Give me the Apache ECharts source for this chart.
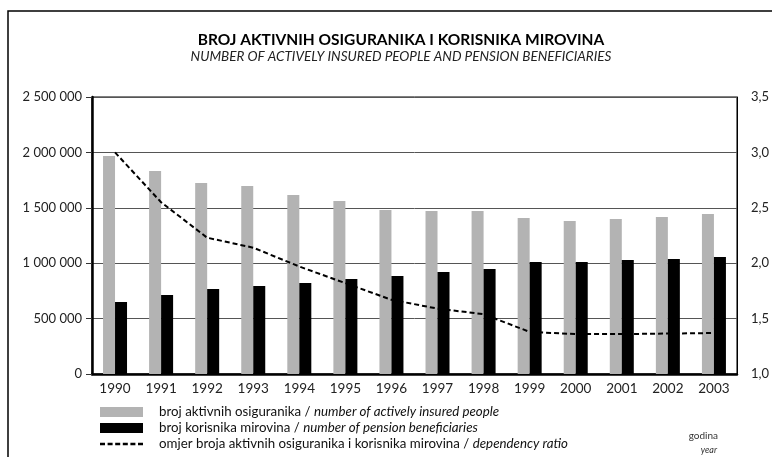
<!DOCTYPE html>
<html><head><meta charset="utf-8">
<script src="https://cdn.jsdelivr.net/npm/echarts@6/dist/echarts.min.js"></script>
<style>html,body{margin:0;padding:0;background:#fff}#c{width:772px;height:457px}</style>
</head><body><div id="c"></div>
<script>
var years = ['1990','1991','1992','1993','1994','1995','1996','1997','1998','1999','2000','2001','2002','2003'];
var insured = [1967000,1832000,1724000,1697000,1616000,1561000,1480000,1471000,1471000,1408000,1381000,1399000,1417000,1444000];
var beneficiaries = [650000,713000,767000,794000,821000,857000,884000,921000,948000,1011000,1011000,1029000,1038000,1056000];
var ratio = [3.0,2.55,2.23,2.14,1.97,1.82,1.67,1.59,1.54,1.38,1.36,1.36,1.365,1.37];
var leftTicks = {min:0, max:2500000, interval:500000};
var rightTicks = {min:1.0, max:3.5, interval:0.5};
var names = [
  ['broj aktivnih osiguranika / ','number of actively insured people'],
  ['broj korisnika mirovina / ','number of pension beneficiaries'],
  ['omjer broja aktivnih osiguranika i korisnika mirovina / ','dependency ratio']
];
var titleText = 'BROJ AKTIVNIH OSIGURANIKA I KORISNIKA MIROVINA';
var subtitleText = 'NUMBER OF ACTIVELY INSURED PEOPLE AND PENSION BENEFICIARIES';
var FONT = 'Lato, "Open Sans", sans-serif';
var dashIcon = 'path://M0,0h50v24h-50zM76,0h50v24h-50zM152,0h50v24h-50zM228,0h50v24h-50zM304,0h50v24h-50zM380,0h50v24h-50z';
var chart = echarts.init(document.getElementById('c'), null, {renderer:'canvas'});
function nm(i){return names[i][0]+names[i][1];}
chart.setOption({
  animation:false,
  backgroundColor:'#fff',
  graphic:[
    {type:'rect',shape:{x:8,y:11,width:800,height:500},style:{fill:null,stroke:'#000',lineWidth:1.5},silent:true},
    {type:'text',x:401,y:40,style:{text:titleText,fontFamily:FONT,fontSize:15.5,fontWeight:'bold',fill:'#000',textAlign:'center',textVerticalAlign:'middle'}},
    {type:'text',x:401,y:57,style:{text:subtitleText,fontFamily:FONT,fontSize:13.5,fontStyle:'italic',fill:'#222',textAlign:'center',textVerticalAlign:'middle'}},
    {type:'text',right:54,top:431,style:{text:'godina',fontFamily:FONT,fontSize:10,fill:'#333'}},
    {type:'text',right:55,top:446,style:{text:'year',fontFamily:FONT,fontSize:9,fontStyle:'italic',fill:'#333'}}
  ],
  grid:{left:92,top:97,width:647,height:277,containLabel:false,show:true,borderColor:'#000',borderWidth:1},
  legend:{
    orient:'vertical', left:100, top:405, padding:0, itemWidth:43, itemHeight:10, itemGap:2,
    data:[{name:nm(0),icon:'rect'},{name:nm(1),icon:'rect'},{name:nm(2),icon:dashIcon,itemStyle:{color:'#000'}}],
    formatter:function(n){
      for(var i=0;i<3;i++){ if(nm(i)===n) return '{a|'+names[i][0]+'}{b|'+names[i][1]+'}'; }
      return n;
    },
    textStyle:{fontFamily:FONT,fontSize:13.3,color:'#111',padding:[0,0,0,11],lineHeight:14,
      rich:{a:{fontFamily:FONT,fontSize:13.3,color:'#111',lineHeight:14},b:{fontFamily:FONT,fontSize:13.3,fontStyle:'italic',color:'#111',lineHeight:14}}}
  },
  xAxis:{
    type:'category', data:years,
    axisLine:{lineStyle:{color:'#000',width:2.5}},
    axisTick:{show:false},
    axisLabel:{fontFamily:FONT,fontSize:13.5,color:'#222',margin:8}
  },
  yAxis:[
    {type:'value',min:leftTicks.min,max:leftTicks.max,interval:leftTicks.interval,
      axisLine:{show:true,lineStyle:{color:'#000',width:2.5}},
      axisTick:{show:true,length:6,lineStyle:{color:'#333',width:1}},
      splitLine:{lineStyle:{color:'#555',width:1}},
      axisLabel:{fontFamily:FONT,fontSize:13,color:'#222',margin:10,
        formatter:function(v){return String(v).replace(/\B(?=(\d{3})+(?!\d))/g,' ');}}},
    {type:'value',min:rightTicks.min,max:rightTicks.max,interval:rightTicks.interval,position:'right',
      axisLine:{show:true,lineStyle:{color:'#000',width:1}},
      axisTick:{show:false},splitLine:{show:false},
      axisLabel:{fontFamily:FONT,fontSize:13,color:'#222',margin:14,
        formatter:function(v){return v.toFixed(1).replace('.',',');}}}
  ],
  series:[
    {name:nm(0),type:'bar',data:insured,barWidth:12,barGap:'0%',itemStyle:{color:'#b3b3b3'}},
    {name:nm(1),type:'bar',data:beneficiaries,barWidth:12,barGap:'0%',itemStyle:{color:'#000'}},
    {name:nm(2),type:'line',yAxisIndex:1,data:ratio,symbol:'none',z:5,
      lineStyle:{color:'#000',width:2,type:[5,3]},itemStyle:{color:'#000'}}
  ]
});
</script></body></html>
